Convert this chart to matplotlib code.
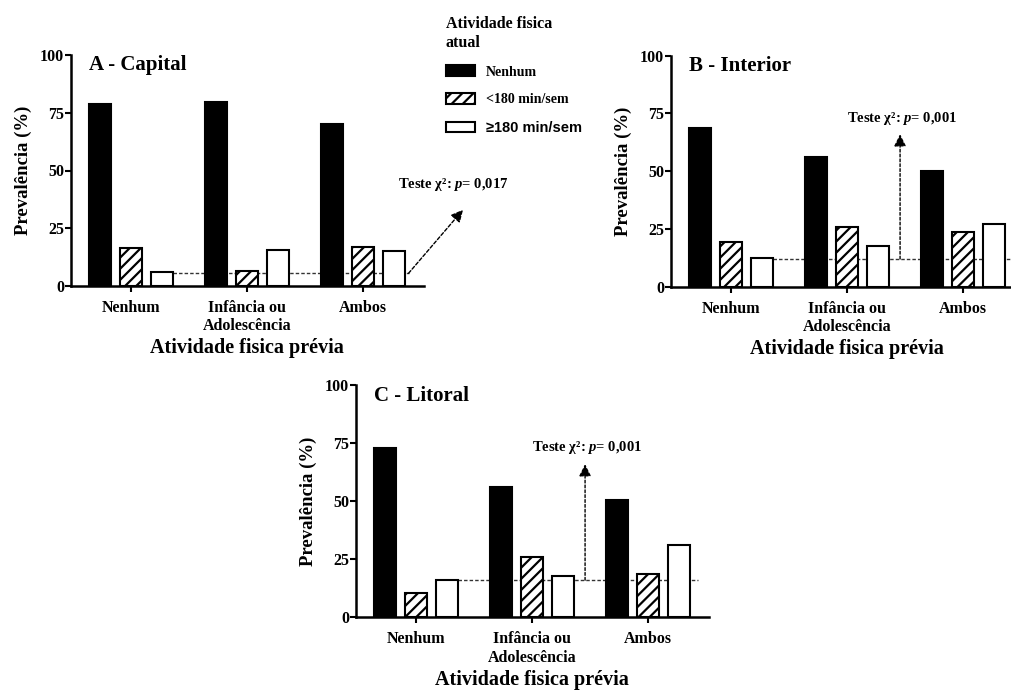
import matplotlib
matplotlib.use('Agg')
import numpy             as np
import matplotlib.pyplot as plt
from matplotlib.patches  import Patch

# ==================================================
# dados (prevalencia, %)

categorias = ['Nenhum', 'Infância ou\nAdolescência', 'Ambos']
grupos     = ['Nenhum', '<180 min/sem', '≥180 min/sem']

capital_nenhum   = [79.0, 79.5, 70.0]
capital_menos180 = [16.5,  6.5, 17.0]
capital_mais180  = [ 6.0, 15.5, 15.0]

interior_nenhum   = [68.5, 56.0, 50.0]
interior_menos180 = [19.5, 26.0, 23.5]
interior_mais180  = [12.5, 17.5, 27.0]

litoral_nenhum   = [73.0, 56.0, 50.5]
litoral_menos180 = [10.5, 26.0, 18.5]
litoral_mais180  = [16.0, 18.0, 31.0]

titulos    = ['A - Capital', 'B - Interior', 'C - Litoral']
p_valores  = ['0,017', '0,001', '0,001']
ref_linhas = [5.5, 12.0, 16.0]

# ==================================================

plt.rcParams['font.family']      = ['Liberation Serif', 'DejaVu Serif']
plt.rcParams['font.weight']      = 'bold'
plt.rcParams['axes.labelweight'] = 'bold'
plt.rcParams['mathtext.fontset'] = 'custom'
plt.rcParams['mathtext.rm']      = 'Liberation Serif:bold'
plt.rcParams['mathtext.it']      = 'Liberation Serif:italic:bold'
plt.rcParams['hatch.linewidth']  = 1.6

W, H = 1011, 691
fig = plt.figure(figsize=(W/100, H/100), dpi=100)

# posicoes dos eixos em pixels: esquerda, base (y=0), altura
pos = [(71, 286.0, 231), (671, 286.7, 231), (356, 617.3, 232)]
larg = 352.6

dados = [(capital_nenhum,  capital_menos180,  capital_mais180),
         (interior_nenhum, interior_menos180, interior_mais180),
         (litoral_nenhum,  litoral_menos180,  litoral_mais180)]

x   = np.arange(len(categorias))
d   = 0.267
bw  = 0.19

for k in range(3):
    l, b, h = pos[k]
    ax = fig.add_axes([l/W, (H-b)/H, larg/W, h/H])
    nen, men, mai = dados[k]

    ax.bar(x - d, nen, bw, color='black', edgecolor='black', lw=1.5, zorder=3)
    ax.bar(x,     men, bw, color='white', edgecolor='black', lw=1.5,
           hatch='///', zorder=3)
    ax.bar(x + d, mai, bw, color='white', edgecolor='black', lw=1.5, zorder=3)

    ax.set_xlim(-0.52, 2.52)
    ax.set_ylim(0, 100)
    ax.set_yticks([0, 25, 50, 75, 100])
    ax.set_xticks(x)
    ax.set_xticklabels(categorias, fontsize=11.5, linespacing=1.2)
    ax.tick_params(axis='y', labelsize=11.5, length=4, width=1.5, pad=1)
    ax.tick_params(axis='x', length=4, width=1.5, pad=6)
    for s in ['top', 'right']:
        ax.spines[s].set_visible(False)
    for s in ['left', 'bottom']:
        ax.spines[s].set_linewidth(1.8)

    ax.set_ylabel('Prevalência (%)', fontsize=13.5, labelpad=6)
    ax.set_xlabel('Atividade fisica prévia', fontsize=14.5, labelpad=3)
    ax.text(0.05, 0.955, titulos[k], transform=ax.transAxes,
            fontsize=15, va='center', ha='left')

    texto = 'Teste χ²: $p$= ' + p_valores[k]
    ref = ref_linhas[k]
    if k == 0:
        ax.plot([0.362, 2.39], [ref, ref], color='#333333', lw=1,
                ls=(0, (2.5, 1.5)), zorder=1)
        ax.annotate('', xy=(2.86, 33), xytext=(2.39, ref),
                    annotation_clip=False,
                    arrowprops=dict(arrowstyle='-|>', color='black', lw=1,
                                    ls=(0, (2.5, 1.5)), mutation_scale=18,
                                    shrinkA=0, shrinkB=0))
        ax.text(2.30, 44, texto, fontsize=10.5, ha='left', va='center',
                clip_on=False)
    else:
        xa = 1.455
        fim = 2.52 if k == 1 else 2.43
        ax.plot([0.362, fim], [ref, ref], color='#333333', lw=1,
                ls=(0, (2.5, 1.5)), zorder=1, clip_on=False)
        ax.annotate('', xy=(xa, 66), xytext=(xa, ref),
                    arrowprops=dict(arrowstyle='-|>', color='black', lw=1,
                                    ls=(0, (2, 1.5)), mutation_scale=18,
                                    shrinkA=0, shrinkB=0))
        ax.text(xa + 0.02, 73, texto, fontsize=10.5, ha='center', va='center')

# legenda
alcas = [Patch(facecolor='black', edgecolor='black', lw=1.5),
         Patch(facecolor='white', edgecolor='black', lw=1.5, hatch='///'),
         Patch(facecolor='white', edgecolor='black', lw=1.5)]
leg = fig.legend(alcas, grupos, title='Atividade fisica\natual',
                 loc='upper left', bbox_to_anchor=(433/W, 1 - 4/H),
                 frameon=False, alignment='left', fontsize=10,
                 title_fontproperties={'size': 11.5, 'weight': 'bold'},
                 handlelength=2.1, handleheight=0.8, labelspacing=1.05,
                 handletextpad=0.8)
leg.get_texts()[2].set_family(['Liberation Sans', 'DejaVu Sans'])
leg.get_texts()[2].set_fontsize(10.5)

plt.savefig('out.png', dpi=100)
